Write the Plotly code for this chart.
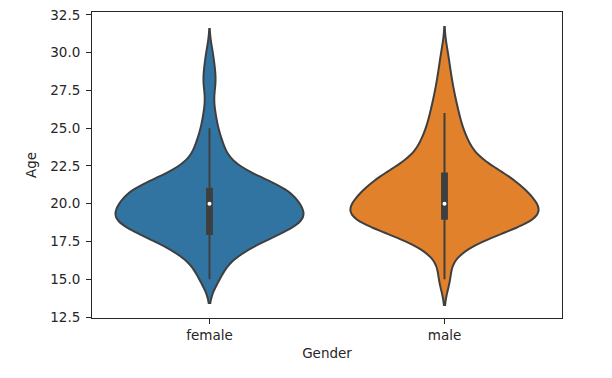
import numpy as np
import plotly.graph_objects as go

# Data (integer ages and their counts per gender)
ages = [15, 16, 17, 18, 19, 20, 21, 22, 23, 24, 25, 26, 27, 28, 29, 30]
female_counts = [9, 12, 28, 55, 82, 68, 66, 29, 13, 11, 6, 5, 2, 6, 4, 3]
male_counts = [7, 2, 13, 38, 82, 70, 61, 48, 22, 19, 13, 11, 8, 6, 4, 3]
categories = ["female", "male"]
bandwidths = [0.78, 0.85]
fill_colors = ["#3274a1", "#e1812c"]
y_ticks = [12.5, 15.0, 17.5, 20.0, 22.5, 25.0, 27.5, 30.0, 32.5]

samples = [np.repeat(ages, female_counts), np.repeat(ages, male_counts)]

EDGE = "#3f3f3f"
TXT = "#262626"
FONT = "DejaVu Sans"
FS = 13.5

fig = go.Figure()
for cat, data, bw, col in zip(categories, samples, bandwidths, fill_colors):
    fig.add_trace(go.Violin(
        x=[cat] * len(data), y=data, name=cat,
        bandwidth=bw, spanmode="soft", width=0.8,
        scalegroup="all", scalemode="width",
        fillcolor=col, opacity=1,
        line=dict(color=EDGE, width=2),
        points=False,
        box_visible=True, box_width=0.026,
        box_fillcolor=EDGE, box_line=dict(color=EDGE, width=2),
        meanline_visible=False,
        hoverinfo="skip",
    ))
    fig.add_trace(go.Scatter(
        x=[cat], y=[float(np.median(data))], mode="markers",
        marker=dict(color="white", size=4, line=dict(width=0)),
        hoverinfo="skip", showlegend=False,
    ))

axis_common = dict(
    showline=True, linecolor=TXT, linewidth=1, mirror=True,
    ticks="outside", ticklen=5, tickwidth=1, tickcolor=TXT,
    showgrid=False, zeroline=False,
    tickfont=dict(family=FONT, size=FS, color=TXT),
    ticklabeloverflow="allow", automargin=False,
)

# the page body adds an 8px offset, so the figure is 8px smaller and margins compensate
fig.update_layout(
    width=604, height=370,
    margin=dict(l=84, r=50, t=4, b=60),
    violinmode="overlay", showlegend=False,
    plot_bgcolor="white", paper_bgcolor="white",
    font=dict(family=FONT, size=FS, color=TXT),
    xaxis=dict(range=[-0.5, 1.5], type="category",
               title=dict(text="Gender", standoff=6, font=dict(family=FONT, size=FS, color=TXT)),
               **axis_common),
    yaxis=dict(range=[12.44, 32.69], tickvals=y_ticks,
               ticktext=["%.1f" % v for v in y_ticks],
               ticklabelstandoff=3,
               title=dict(text="Age", standoff=10, font=dict(family=FONT, size=FS, color=TXT)),
               **axis_common),
)

fig.write_html("out.html")
